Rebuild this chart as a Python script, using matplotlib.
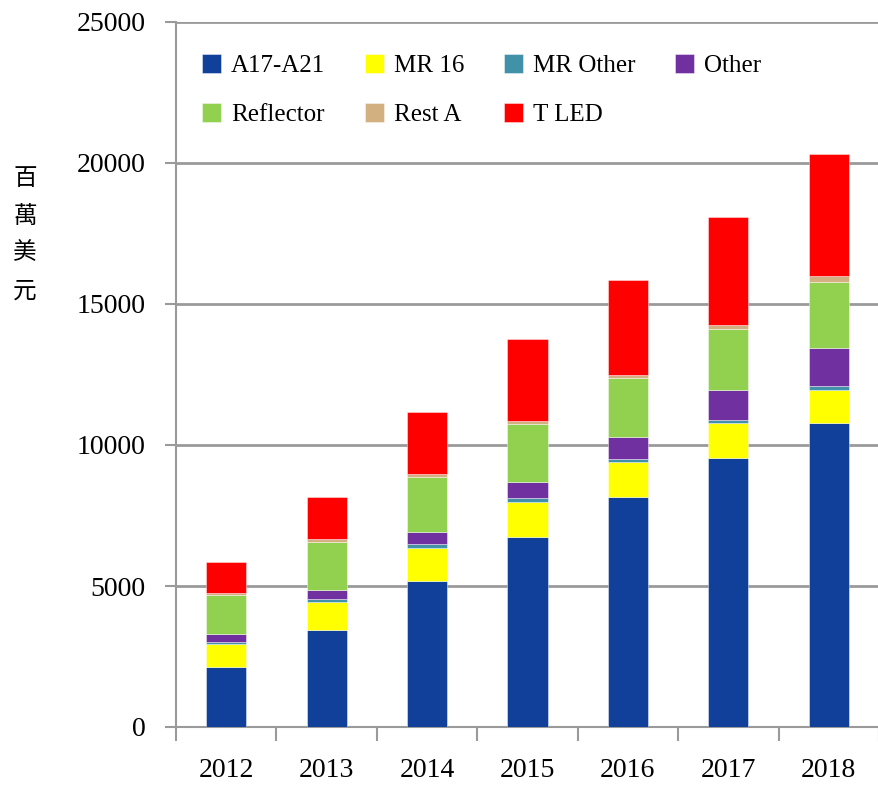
import numpy as np
import matplotlib.pyplot as plt
from matplotlib.ticker import FixedLocator

# data (millions USD)
years = ['2012', '2013', '2014', '2015', '2016', '2017', '2018']
a17_a21 = [2130, 3440, 5180, 6750, 8160, 9550, 10790]
mr16 = [800, 1000, 1180, 1240, 1220, 1220, 1170]
mr_other = [70, 95, 130, 120, 130, 120, 120]
other = [300, 330, 415, 580, 770, 1070, 1360]
reflector = [1380, 1690, 1960, 2050, 2080, 2140, 2350]
rest_a = [60, 95, 105, 125, 120, 145, 190]
t_led = [1120, 1510, 2190, 2890, 3370, 3850, 4330]

series = [
    ('A17-A21', a17_a21, '#10409A'),
    ('MR 16', mr16, '#FFFF00'),
    ('MR Other', mr_other, '#4192A8'),
    ('Other', other, '#7030A0'),
    ('Reflector', reflector, '#92D050'),
    ('Rest A', rest_a, '#D2B080'),
    ('T LED', t_led, '#FF0000'),
]

serif = ['Liberation Serif', 'DejaVu Serif']
grid_col = '#9a9a9a'

fig = plt.figure(figsize=(8.79, 7.86), dpi=100)
ax = fig.add_axes([176 / 879, 1 - 727 / 786, 1 - 176 / 879, (727 - 22) / 786])

x = np.arange(len(years))
bottom = np.zeros(len(years))
handles = {}
for name, vals, col in series:
    b = ax.bar(x, vals, width=0.4, bottom=bottom, color=col,
               edgecolor=(1, 1, 1, 0.5), linewidth=0.6, label=name, zorder=3)
    handles[name] = b
    bottom += np.array(vals)

ax.set_xlim(-0.5, len(years) - 0.5)
ax.set_ylim(0, 25000)
ax.set_yticks(np.arange(0, 25001, 5000))
ax.set_yticklabels([str(v) for v in range(0, 25001, 5000)], family=serif, fontsize=20)
ax.yaxis.grid(True, color=grid_col, linewidth=2, zorder=0)

ax.set_xticks(x)
ax.set_xticklabels(years, family=serif, fontsize=20)
ax.xaxis.set_minor_locator(FixedLocator(np.arange(-0.5, len(years), 1.0)))
ax.tick_params(axis='x', which='major', length=0, pad=22)
ax.tick_params(axis='x', which='minor', length=10, width=1.5, color=grid_col)
ax.tick_params(axis='y', length=8, width=1.5, color=grid_col, pad=14)

for side in ['top', 'right']:
    ax.spines[side].set_visible(False)
for side in ['left', 'bottom']:
    ax.spines[side].set_color(grid_col)
    ax.spines[side].set_linewidth(1.5)

order = ['A17-A21', 'Reflector', 'MR 16', 'Rest A', 'MR Other', 'T LED', 'Other']
ax.legend([handles[n] for n in order], order, ncol=4, loc='upper left',
          bbox_to_anchor=(0.005, 0.986), frameon=False,
          prop={'family': serif, 'size': 18},
          handlelength=0.75, handleheight=0.75, handletextpad=0.4,
          columnspacing=1.6, labelspacing=1.05)

fig.text(25 / 879, 1 - 235 / 786, '百\n萬\n美\n元', family=['Noto Sans CJK TC', 'DejaVu Sans'],
         fontsize=17, ha='center', va='center', linespacing=1.8)

fig.savefig('out.png', dpi=100)
